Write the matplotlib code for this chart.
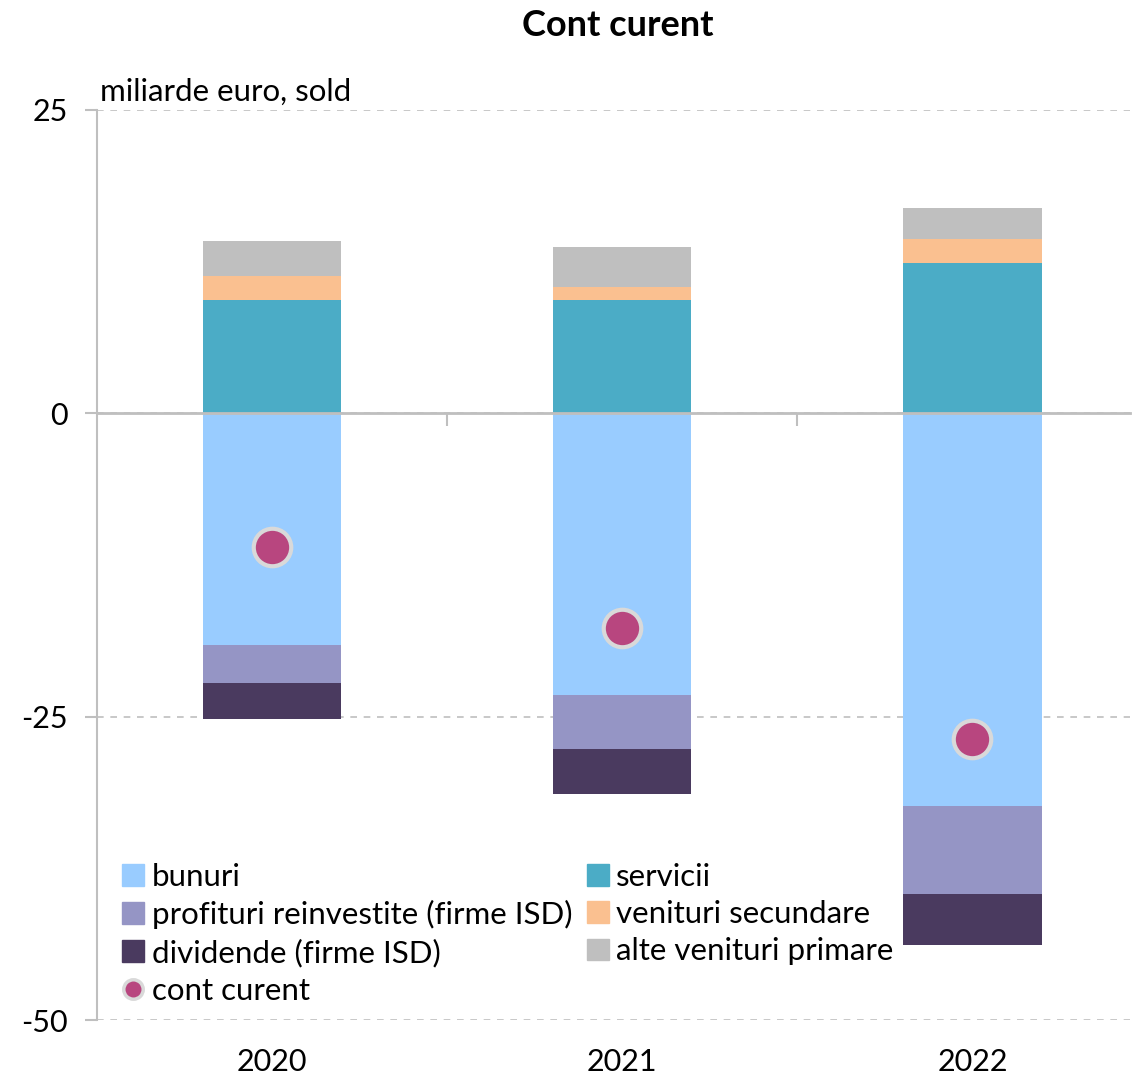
import matplotlib
matplotlib.use("Agg")
import matplotlib.pyplot as plt
import numpy as np
from matplotlib.lines import Line2D
from matplotlib.patches import Patch

plt.rcParams['font.family'] = ['Lato', 'DejaVu Sans']

# Sold cont curent, miliarde euro
ani = ["2020", "2021", "2022"]
servicii = [9.3, 9.3, 12.4]
venituri_secundare = [2.0, 1.1, 2.0]
alte_venituri = [2.9, 3.3, 2.5]
bunuri = [-19.1, -23.2, -32.4]
profituri = [-3.1, -4.5, -7.2]
dividende = [-3.0, -3.7, -4.2]
cont_curent = [-11.0, -17.7, -26.8]

C_BUNURI = "#99CCFF"
C_SERVICII = "#4BACC6"
C_PROFIT = "#9595C5"
C_VENSEC = "#FAC090"
C_ALTE = "#BFBFBF"
C_DIV = "#4A3A5F"
C_CONT = "#B8467F"
C_GRI = "#BFBFBF"
FS = 22.5

fig = plt.figure(figsize=(11.35, 10.75), dpi=100)
ax = fig.add_axes([97 / 1135, 1 - 1020 / 1075, (1130 - 97) / 1135, (1020 - 110) / 1075])

x = np.arange(len(ani))
w = 0.395

# partea pozitiva
jos = np.zeros(len(ani))
for vals, col in [(servicii, C_SERVICII), (venituri_secundare, C_VENSEC), (alte_venituri, C_ALTE)]:
    ax.bar(x, vals, w, bottom=jos, color=col, zorder=2)
    jos += np.array(vals)

# partea negativa
jos = np.zeros(len(ani))
for vals, col in [(bunuri, C_BUNURI), (profituri, C_PROFIT), (dividende, C_DIV)]:
    ax.bar(x, vals, w, bottom=jos, color=col, zorder=2)
    jos += np.array(vals)

ax.plot(x, cont_curent, 'o', ms=27, mfc=C_CONT, mec="#D9D9D9", mew=3, zorder=5)

ax.set_ylim(-50, 25)
ax.set_xlim(-0.5, 2.45)
ax.set_yticks([25, 0, -25, -50])
ax.set_yticklabels(["25", "0", "-25", "-50"])
ax.tick_params(axis='y', length=9, width=1.5, color=C_GRI, pad=12, labelsize=22)
ax.grid(axis='y', linestyle=(0, (4, 4)), color=C_GRI, linewidth=1.2, zorder=0)

for s in ["top", "right"]:
    ax.spines[s].set_visible(False)
ax.spines["left"].set_color(C_GRI)
ax.spines["left"].set_linewidth(1.5)

# axa orizontala la zero, cu separatori intre ani
ax.spines["bottom"].set_position(("data", 0))
ax.spines["bottom"].set_color(C_GRI)
ax.spines["bottom"].set_linewidth(2)
ax.spines["bottom"].set_zorder(3)
ax.set_xticks(x)
ax.set_xticklabels([])
ax.tick_params(axis='x', which='major', length=0)
ax.set_xticks([0.5, 1.5], minor=True)
ax.tick_params(axis='x', which='minor', length=9, width=1.5, color=C_GRI, direction='out')

sec = ax.secondary_xaxis(0)
sec.set_xticks(x)
sec.set_xticklabels(ani, fontsize=22)
sec.tick_params(length=0, pad=20)
sec.spines["bottom"].set_visible(False)

ax.text(0.003, 1.005, "miliarde euro, sold", transform=ax.transAxes, fontsize=FS,
        ha='left', va='bottom')
fig.text(618 / 1135, 1 - 25 / 1075, "Cont curent", fontsize=26, fontweight='bold',
         ha='center', va='center')

handles = [
    Patch(color=C_BUNURI, label="bunuri"),
    Patch(color=C_PROFIT, label="profituri reinvestite (firme ISD)"),
    Patch(color=C_DIV, label="dividende (firme ISD)"),
    Line2D([], [], ls='none', marker='o', ms=14, mfc=C_CONT, mec="#D9D9D9", mew=2.5,
           label="cont curent"),
    Patch(color=C_SERVICII, label="servicii"),
    Patch(color=C_VENSEC, label="venituri secundare"),
    Patch(color=C_ALTE, label="alte venituri primare"),
]
ax.legend(handles=handles, ncol=2, loc='upper left', bbox_to_anchor=(0.0095, 0.19),
          frameon=False, fontsize=FS, handlelength=0.7, handleheight=0.7,
          handletextpad=0.25, columnspacing=0.45, labelspacing=0.3, borderpad=0)

fig.savefig("out.png", dpi=100)
